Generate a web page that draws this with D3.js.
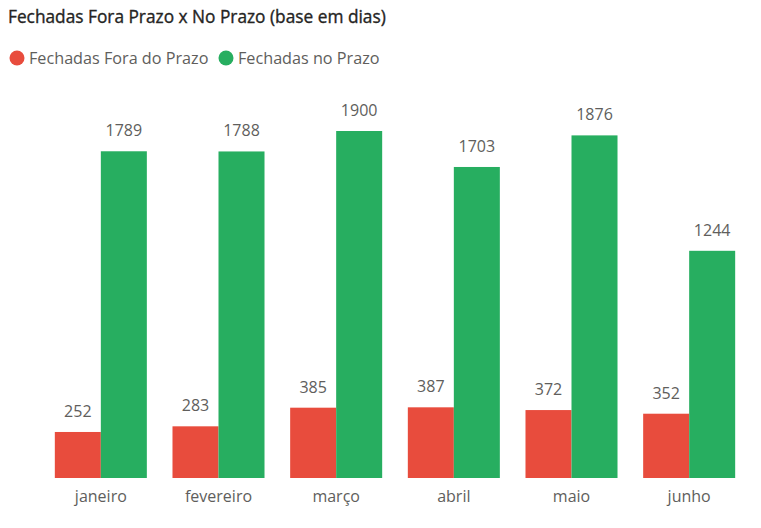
<!DOCTYPE html>
<html>
<head>
<meta charset="utf-8">
<script src="https://cdn.jsdelivr.net/npm/d3@7"></script>
<style>
  body { margin: 0; background: #fff; }
  svg { display: block; }
</style>
</head>
<body>
<svg id="chart" width="761" height="528"></svg>
<script>
// data
var months = ['janeiro', 'fevereiro', 'março', 'abril', 'maio', 'junho'];
var foraPrazo = [252, 283, 385, 387, 372, 352];
var noPrazo = [1789, 1788, 1900, 1703, 1876, 1244];
var seriesNames = ['Fechadas Fora do Prazo', 'Fechadas no Prazo'];
var seriesColors = ['#E84C3D', '#27AE60'];

var svg = d3.select('#chart');
var font = "'Segoe UI', 'Open Sans', sans-serif";

// title, normal weight with a thin stroke to get a medium look
svg.append('text')
  .attr('x', 8).attr('y', 23)
  .attr('font-family', font)
  .attr('font-size', 17.3)
  .attr('fill', '#252423')
  .attr('stroke', '#252423')
  .attr('stroke-width', 0.35)
  .text('Fechadas Fora Prazo x No Prazo (base em dias)');

// legend
var legX = [17, 226];
seriesNames.forEach(function(name, i) {
  svg.append('circle')
    .attr('cx', legX[i]).attr('cy', 58).attr('r', 7.5)
    .attr('fill', seriesColors[i]);
  svg.append('text')
    .attr('x', legX[i] + 12).attr('y', 64)
    .attr('font-family', font)
    .attr('font-size', 16.2)
    .attr('fill', '#605E5C')
    .text(name);
});

var baseline = 478;
var x = d3.scaleBand().domain(months).range([42, 748]).paddingInner(0.218).paddingOuter(0.109);
var xs = d3.scaleBand().domain([0, 1]).range([0, x.bandwidth()]);
var y = d3.scaleLinear().domain([0, 1900]).range([baseline, 131]);

var rows = months.map(function(m, i) { return { month: m, vals: [foraPrazo[i], noPrazo[i]] }; });

var g = svg.append('g');
var groups = g.selectAll('g.grp').data(rows).enter().append('g')
  .attr('transform', function(d) { return 'translate(' + x(d.month) + ',0)'; });

groups.selectAll('rect').data(function(d) { return d.vals; }).enter().append('rect')
  .attr('x', function(d, i) { return xs(i); })
  .attr('y', function(d) { return y(d); })
  .attr('width', xs.bandwidth())
  .attr('height', function(d) { return baseline - y(d); })
  .attr('fill', function(d, i) { return seriesColors[i]; });

groups.selectAll('text.val').data(function(d) { return d.vals; }).enter().append('text')
  .attr('class', 'val')
  .attr('x', function(d, i) { return xs(i) + xs.bandwidth() / 2; })
  .attr('y', function(d) { return y(d) - 15; })
  .attr('text-anchor', 'middle')
  .attr('font-family', font)
  .attr('font-size', 16)
  .attr('fill', '#605E5C')
  .text(function(d) { return d; });

var xAxis = svg.append('g')
  .attr('transform', 'translate(0,' + baseline + ')')
  .call(d3.axisBottom(x).tickSize(0).tickPadding(13));
xAxis.select('.domain').remove();
xAxis.selectAll('text')
  .attr('font-family', font)
  .attr('font-size', 16)
  .attr('fill', '#605E5C');
</script>
</body>
</html>
